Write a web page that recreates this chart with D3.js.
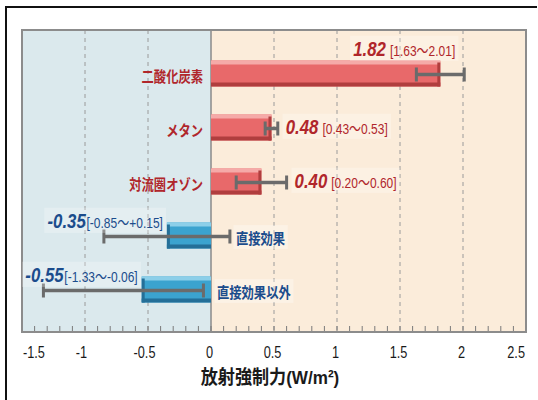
<!DOCTYPE html>
<html>
<head>
<meta charset="utf-8">
<script src="https://cdn.jsdelivr.net/npm/d3@7/dist/d3.min.js"></script>
<style>
  html, body { margin: 0; padding: 0; background: #ffffff; }
  svg { display: block; }
</style>
</head>
<body>
<svg id="chart" width="538" height="400"></svg>
<script>
// Radiative forcing by component (W/m²) with uncertainty ranges
const categories = ["二酸化炭素", "メタン", "対流圏オゾン", "直接効果", "直接効果以外"];
const values = [1.82, 0.48, 0.40, -0.35, -0.55];
const lows = [1.63, 0.43, 0.20, -0.85, -1.33];
const highs = [2.01, 0.53, 0.60, 0.15, -0.06];
const valueLabels = ["1.82", "0.48", "0.40", "-0.35", "-0.55"];
const rangeLabels = ["[1.63〜2.01]", "[0.43〜0.53]", "[0.20〜0.60]", "[-0.85〜+0.15]", "[-1.33〜-0.06]"];
const xTicks = [-1.5, -1, -0.5, 0, 0.5, 1, 1.5, 2, 2.5];
const xTickLabels = ["-1.5", "-1", "-0.5", "0", "0.5", "1", "1.5", "2", "2.5"];
const axisTitle = "放射強制力(W/m²)";

const rows = categories.map((c, i) => ({
  name: c, value: values[i], lo: lows[i], hi: highs[i],
  vLabel: valueLabels[i], rLabel: rangeLabels[i]
}));

const svg = d3.select("#chart");
const W = 538, H = 400;
const plot = { left: 22, right: 526, top: 30, bottom: 332 };

const latin = "'Liberation Sans', Arial, 'Noto Sans CJK JP', sans-serif";
const jp = "'Noto Sans CJK JP', sans-serif";
const NARROW = 0.8;   // horizontal squeeze for a condensed look

const x = d3.scaleLinear().domain([-1.5, 2.5]).range([plot.left, plot.right]);
const y = d3.scalePoint().domain(categories).range([73.5, 289.5]);
const barH = 26;

const posCol = { main: "#e8696a", light: "#f5aaa8", dark: "#b03e3e", text: "#b0262b" };
const negCol = { main: "#3ba3cf", light: "#8ccfe9", dark: "#246f98", text: "#1b4c8c" };

// condensed text: a group translated to (px, py) and squeezed horizontally
function narrowText(parent, px, py, sx) {
  const g = parent.append("g").attr("transform", `translate(${px},${py}) scale(${sx},1)`);
  const t = g.append("text").attr("x", 0).attr("y", 0);
  return { g, t };
}

// soft box behind a text element (drawn in the text's own coordinates)
function boxBehind(g, t, pad, fill, opacity) {
  const b = t.node().getBBox();
  g.insert("rect", () => t.node())
    .attr("x", b.x - pad).attr("y", b.y - 1)
    .attr("width", b.width + pad * 2).attr("height", b.height + 2)
    .attr("fill", fill).attr("opacity", opacity);
}

// page background and outer frame
svg.append("rect").attr("width", W).attr("height", H).attr("fill", "#ffffff");
svg.append("path")
  .attr("d", `M6,${H} V7 H537`)
  .attr("fill", "none").attr("stroke", "#111").attr("stroke-width", 2);

// negative / positive background regions
svg.append("rect")
  .attr("x", x(-1.5)).attr("y", plot.top)
  .attr("width", x(0) - x(-1.5)).attr("height", plot.bottom - plot.top)
  .attr("fill", "#dbe9ed");
svg.append("rect")
  .attr("x", x(0)).attr("y", plot.top)
  .attr("width", x(2.5) - x(0)).attr("height", plot.bottom - plot.top)
  .attr("fill", "#fbecda");

// dashed grid lines
svg.append("g").selectAll("line")
  .data(xTicks.filter(t => t !== 0 && t !== -1.5 && t !== 2.5))
  .join("line")
  .attr("x1", d => x(d)).attr("x2", d => x(d))
  .attr("y1", plot.top).attr("y2", plot.bottom)
  .attr("stroke", "#9a9a9a").attr("stroke-width", 1)
  .attr("stroke-dasharray", "4,4");

// zero line
svg.append("line")
  .attr("x1", x(0)).attr("x2", x(0))
  .attr("y1", plot.top).attr("y2", plot.bottom)
  .attr("stroke", "#8a8a8a").attr("stroke-width", 1.5);

// minor ticks along the bottom edge, every 0.1
const minor = d3.range(-14, 25).map(k => k / 10);
svg.append("g").selectAll("line")
  .data(minor)
  .join("line")
  .attr("x1", d => x(d)).attr("x2", d => x(d))
  .attr("y1", plot.bottom - 6).attr("y2", plot.bottom)
  .attr("stroke", "#7a7a7a").attr("stroke-width", 1);

// plot border
svg.append("rect")
  .attr("x", plot.left).attr("y", plot.top)
  .attr("width", plot.right - plot.left).attr("height", plot.bottom - plot.top)
  .attr("fill", "none").attr("stroke", "#8c8c8c").attr("stroke-width", 2);

// bars with bevel shading
const bars = svg.append("g");
rows.forEach(d => {
  const c = d.value >= 0 ? posCol : negCol;
  const x0 = x(Math.min(0, d.value)), x1 = x(Math.max(0, d.value));
  const top = y(d.name) - barH / 2;
  const g = bars.append("g");
  g.append("rect").attr("x", x0).attr("y", top).attr("width", x1 - x0).attr("height", barH).attr("fill", c.main);
  g.append("rect").attr("x", x0).attr("y", top).attr("width", x1 - x0).attr("height", 4).attr("fill", c.light);
  g.append("rect").attr("x", x0).attr("y", top + barH - 4).attr("width", x1 - x0).attr("height", 4).attr("fill", c.dark);
  g.append("rect")
    .attr("x", d.value >= 0 ? x1 - 3 : x0).attr("y", top + 2)
    .attr("width", 3).attr("height", barH - 2).attr("fill", c.dark);
});

// error bars
const err = svg.append("g").attr("stroke", "#6b6b6b").attr("stroke-width", 3.5).attr("fill", "none");
rows.forEach(d => {
  const cy = y(d.name) + 1;
  err.append("line").attr("x1", x(d.lo)).attr("x2", x(d.hi)).attr("y1", cy).attr("y2", cy);
  err.append("line").attr("x1", x(d.lo)).attr("x2", x(d.lo)).attr("y1", cy - 7).attr("y2", cy + 7).attr("stroke-width", 3);
  err.append("line").attr("x1", x(d.hi)).attr("x2", x(d.hi)).attr("y1", cy - 7).attr("y2", cy + 7).attr("stroke-width", 3);
});

// category labels
const cats = svg.append("g");
rows.forEach(d => {
  const c = d.value >= 0 ? posCol : negCol;
  const cy = y(d.name) + 1.5;
  const px = d.value >= 0 ? x(0) - 8 : x(Math.max(0, d.hi)) + 6;
  const { g, t } = narrowText(cats, px, cy, 0.82);
  t.attr("dominant-baseline", "central")
    .attr("text-anchor", d.value >= 0 ? "end" : "start")
    .attr("font-family", jp).attr("font-size", 15).attr("font-weight", 700)
    .attr("fill", c.text)
    .text(d.name);
  if (d.value < 0) boxBehind(g, t, 3, "#ffffff", 0.3);
});

// value labels with uncertainty range
const vals = svg.append("g");
rows.forEach(d => {
  const c = d.value >= 0 ? posCol : negCol;
  const cy = y(d.name);
  const top = cy - barH / 2;
  // measure first, then place
  const probe = vals.append("text").attr("font-family", latin);
  probe.append("tspan").attr("font-size", 21).attr("font-weight", "bold").attr("font-style", "italic").text(d.vLabel);
  probe.append("tspan").attr("dx", 5).attr("font-size", 15).text(d.rLabel);
  const w = probe.node().getComputedTextLength() * NARROW;
  probe.remove();

  let px, py, anchor;
  if (d.value < 0) {
    px = x(d.value) - 4; py = top + 5; anchor = "end";
  } else if (x(d.hi) + 8 + w > plot.right - 4) {
    px = x(d.hi) - 9; py = top - 5; anchor = "end";
  } else {
    px = x(d.hi) + 8; py = cy + 6; anchor = "start";
  }
  const { g, t } = narrowText(vals, px, py, NARROW);
  t.attr("font-family", latin).attr("fill", c.text).attr("text-anchor", anchor);
  t.append("tspan").attr("font-size", 21).attr("font-weight", "bold").attr("font-style", "italic").text(d.vLabel);
  t.append("tspan").attr("dx", d.value >= 0 ? 5 : 1).attr("font-size", 15).text(d.rLabel);
  boxBehind(g, t, 4, "#ffffff", 0.25);
});

// x tick labels
const tickG = svg.append("g");
xTicks.forEach((d, i) => {
  const last = xTicks.length - 1;
  const px = i === 0 ? x(d) + 1 : i === last ? x(d) - 1 : x(d) + (d < 0 ? -3.5 : -1.5);
  const { t } = narrowText(tickG, px, 358, 0.75);
  t.attr("text-anchor", i === 0 ? "start" : i === last ? "end" : "middle")
    .attr("font-family", latin).attr("font-size", 17).attr("fill", "#1a1a1a")
    .text(xTickLabels[i]);
});

// axis title
{
  const { t } = narrowText(svg, 270, 384, 0.9);
  t.attr("text-anchor", "middle")
    .attr("font-family", latin).attr("font-size", 19).attr("font-weight", "bold").attr("fill", "#1a1a1a")
    .text(axisTitle);
}
</script>
</body>
</html>
